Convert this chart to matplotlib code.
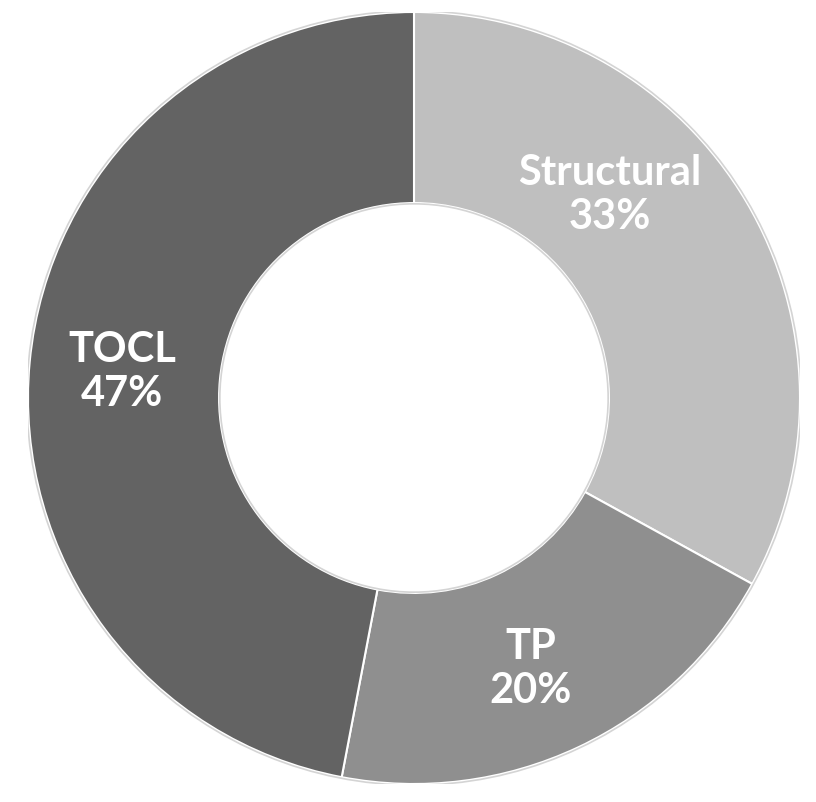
import matplotlib.pyplot as plt

labels = ["Structural", "TP", "TOCL"]
shares = [33, 20, 47]
colors = ["#bfbfbf", "#8f8f8f", "#636363"]

# label anchor spots (data coords, outer radius = 1)
label_pos = [(0.508, 0.526), (0.303, -0.702), (-0.756, 0.067)]

fig = plt.figure(figsize=(8.16, 8.02), dpi=100)
ax = fig.add_axes([28 / 816, 18 / 802, 772 / 816, 772 / 802])

wedges, _ = ax.pie(shares, colors=colors, startangle=90, counterclock=False,
                   radius=1.0,
                   wedgeprops=dict(width=0.495, edgecolor="white", linewidth=1.5))

# faint outline round the ring
ax.add_patch(plt.Circle((0, 0), 1.003, fill=False, ec="#d4d4d4", lw=1.2))
ax.add_patch(plt.Circle((0, 0), 0.503, fill=False, ec="#d4d4d4", lw=1.2))

for lab, val, (x, y) in zip(labels, shares, label_pos):
    ax.text(x, y, f"{lab}\n{val}%", ha="center", va="center", color="white",
            fontsize=30, fontweight="bold", family="Lato", linespacing=1.2)

ax.set_xlim(-1, 1)
ax.set_ylim(-1, 1)
ax.set_aspect("equal")
ax.axis("off")

fig.savefig("out.png", dpi=100)
